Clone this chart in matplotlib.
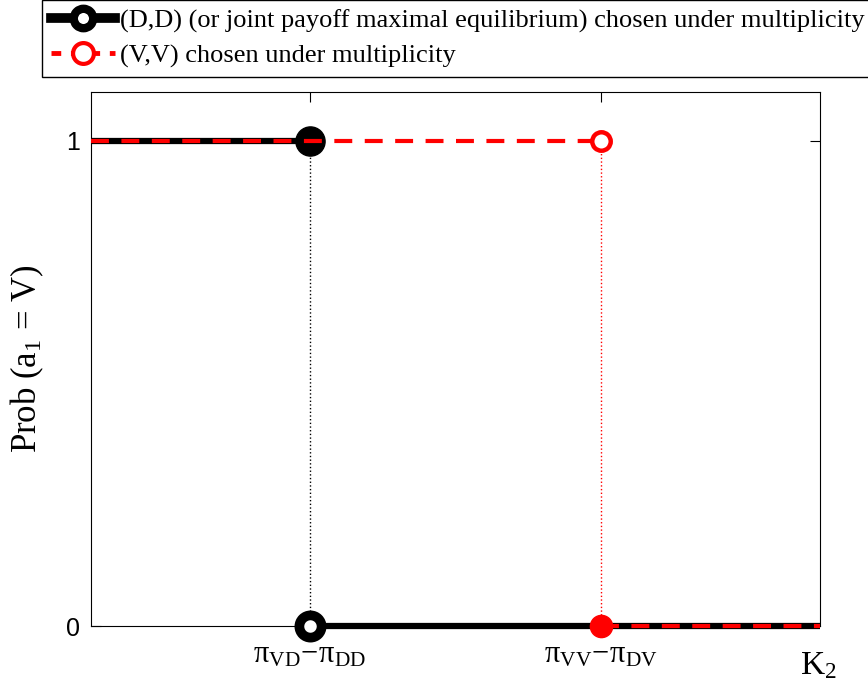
import matplotlib.pyplot as plt
from matplotlib.lines import Line2D

plt.rcParams['mathtext.fontset'] = 'custom'
plt.rcParams['mathtext.rm'] = 'Liberation Serif'
plt.rcParams['mathtext.it'] = 'Liberation Serif:italic'

# thresholds on the K2 axis (arbitrary units)
k_vd_dd = 0.3
k_vv_dv = 0.7
x_max = 1.0

# (D,D) selection: prob = 1 below first threshold, 0 above
dd_hi_x = [0, k_vd_dd]
dd_hi_y = [1, 1]
dd_lo_x = [k_vd_dd, x_max]
dd_lo_y = [0, 0]

# (V,V) selection: prob = 1 below second threshold, 0 above
vv_hi_x = [0, k_vv_dv]
vv_hi_y = [1, 1]
vv_lo_x = [k_vv_dv, x_max]
vv_lo_y = [0, 0]

xtick_pos = [k_vd_dd, k_vv_dv]
xtick_labels = [r'$\mathrm{\pi_{VD}}\!-\!\mathrm{\pi_{DD}}$', r'$\mathrm{\pi_{VV}}\!-\!\mathrm{\pi_{DV}}$']
legend_labels = ['(D,D) (or joint payoff maximal equilibrium) chosen under multiplicity',
                 '(V,V) chosen under multiplicity']

fig = plt.figure(figsize=(8.68, 6.96), dpi=100)
ax = fig.add_axes([91/868, 1 - 626/696, 729/868, 534/696])

# dotted guides
ax.plot([k_vd_dd, k_vd_dd], [0, 1], color='black', linestyle=':', lw=1)
ax.plot([k_vv_dv, k_vv_dv], [0, 1], color='red', linestyle=':', lw=1)

# black (D,D) curve
ax.plot(dd_hi_x, dd_hi_y, color='black', lw=4.5, solid_capstyle='butt', clip_on=False, zorder=3)
ax.plot(dd_lo_x, dd_lo_y, color='black', lw=4.5, solid_capstyle='butt', clip_on=False, zorder=3)
ax.plot([k_vd_dd], [1], 'o', color='black', ms=21, clip_on=False, zorder=4)
ax.plot([k_vd_dd], [0], 'o', mfc='white', mec='black', ms=16, mew=7, clip_on=False, zorder=4)

# red (V,V) curve
ax.plot(vv_hi_x, vv_hi_y, color='red', lw=3, linestyle=(0, (4.3, 3)), clip_on=False, zorder=5)
ax.plot(vv_lo_x, vv_lo_y, color='red', lw=3, linestyle=(0, (4.3, 3)), clip_on=False, zorder=5)
ax.plot([k_vv_dv], [1], 'o', mfc='white', mec='red', ms=13.3, mew=3.2, clip_on=False, zorder=6)
ax.plot([k_vv_dv], [0], 'o', color='red', ms=16, clip_on=False, zorder=6)

ax.set_xlim(0, x_max)
ax.set_ylim(0, 1.1)
ax.set_yticks([0, 1])
ax.set_yticklabels(['0', '1'], family='Liberation Sans', fontsize=18)
ax.set_xticks(xtick_pos)
ax.set_xticklabels(xtick_labels, fontsize=22)
ax.tick_params(direction='in', length=7, top=True, right=True, pad=8)
ax.tick_params(axis='x', pad=10)
ax.set_ylabel(r'Prob (a$_{\mathrm{1}}$ = V)', family='Liberation Serif', fontsize=25, labelpad=14)
fig.text(800/868, 1 - 674/696, r'K$_{\mathrm{2}}$', family='Liberation Serif', fontsize=24)

handles = [
    Line2D([], [], color='black', lw=7, marker='o', mfc='white', mec='black', ms=14, mew=6),
    Line2D([], [], color='red', lw=3.5, linestyle=(0, (2, 2)), marker='o', mfc='white', mec='red', ms=15, mew=3),
]
leg = fig.legend(handles, legend_labels, loc='upper left', bbox_to_anchor=(42/868, 1.0),
                 borderaxespad=0, fancybox=False, edgecolor='black', framealpha=1,
                 prop={'family': 'Liberation Serif', 'size': 19}, handlelength=2.4,
                 handletextpad=0.2, borderpad=0.35, labelspacing=0.4)
leg.get_frame().set_linewidth(1)

fig.savefig('out.png', dpi=100)
